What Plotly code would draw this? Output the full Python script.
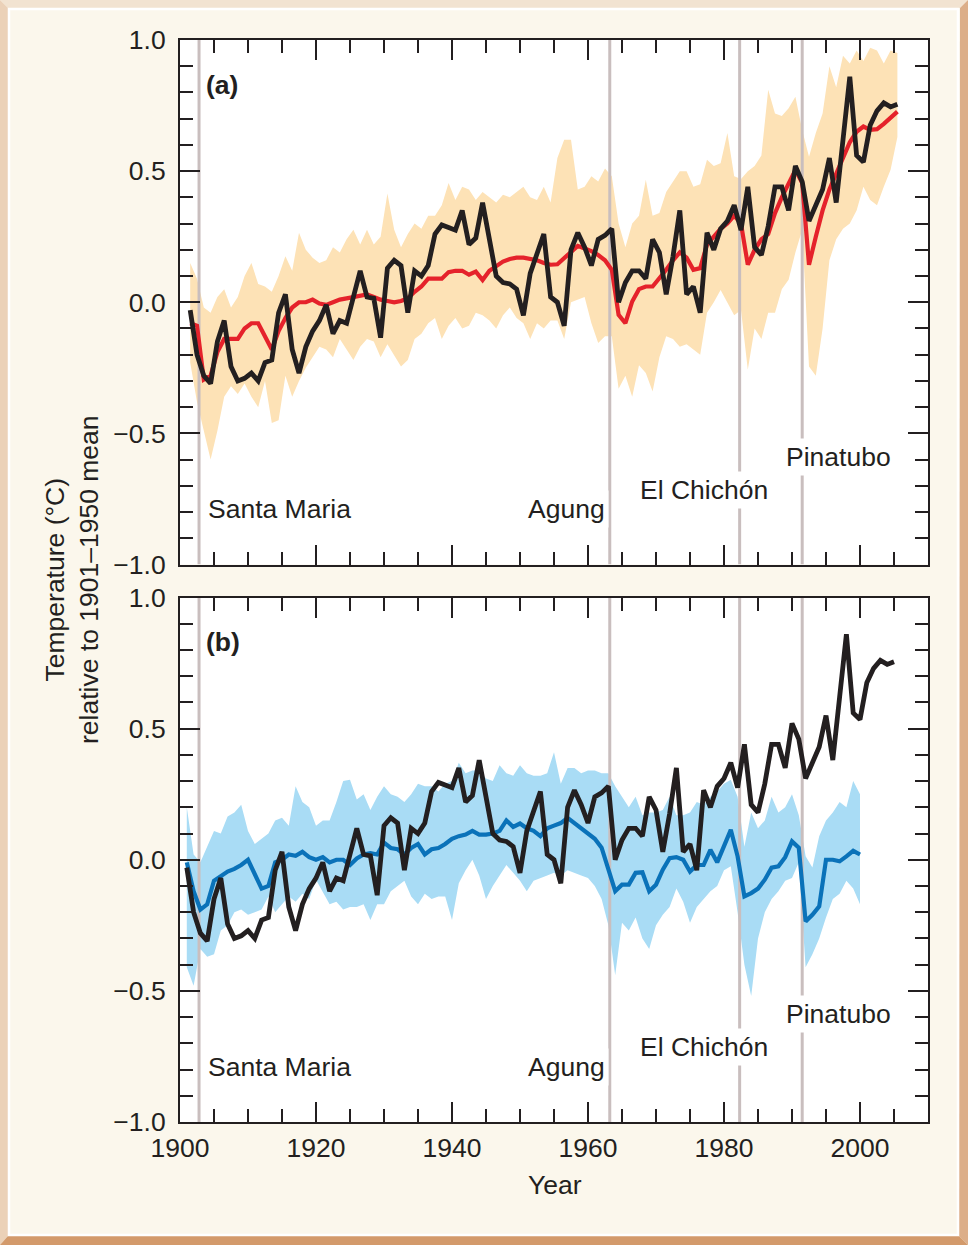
import plotly.graph_objects as go

# ---------------- data ----------------
years_all = list(range(1901, 2006))   # 1901-2005
years_nat = list(range(1901, 2001))   # 1901-2000

observed = [
    -0.03, -0.20, -0.28, -0.31, -0.15, -0.07, -0.245, -0.30, -0.29, -0.27,
    -0.30, -0.23, -0.22, -0.04, 0.03, -0.18, -0.27, -0.17, -0.11, -0.07,
    -0.01, -0.12, -0.07, -0.08, 0.02, 0.12, 0.02, 0.015, -0.135, 0.13,
    0.16, 0.14, -0.04, 0.12, 0.10, 0.14, 0.26, 0.295, 0.285, 0.275,
    0.35, 0.22, 0.245, 0.38, 0.24, 0.10, 0.075, 0.07, 0.05, -0.05,
    0.11, 0.19, 0.26, 0.02, 0.0, -0.09, 0.20, 0.265, 0.21, 0.14,
    0.24, 0.255, 0.28, 0.0, 0.075, 0.12, 0.12, 0.09, 0.24, 0.19,
    0.03, 0.175, 0.35, 0.03, 0.06, -0.04, 0.265, 0.20, 0.28, 0.31,
    0.37, 0.275, 0.44, 0.21, 0.18, 0.29, 0.44, 0.44, 0.35, 0.52,
    0.46, 0.31, 0.365, 0.43, 0.55, 0.38, 0.62, 0.86, 0.56, 0.535,
    0.675, 0.73, 0.76, 0.745, 0.755,
]

all_forcing_mean = [
    -0.08, -0.09, -0.295, -0.28, -0.19, -0.14, -0.14, -0.14, -0.10, -0.08,
    -0.08, -0.13, -0.18, -0.11, -0.06, -0.02, 0.0, 0.0, 0.01, -0.005,
    -0.01, 0.0, 0.01, 0.015, 0.02, 0.025, 0.03, 0.02, 0.01, 0.005,
    0.0, 0.005, 0.015, 0.04, 0.06, 0.09, 0.09, 0.09, 0.115, 0.12,
    0.12, 0.105, 0.117, 0.085, 0.12, 0.14, 0.155, 0.165, 0.17, 0.17,
    0.165, 0.16, 0.15, 0.143, 0.145, 0.17, 0.19, 0.215, 0.205, 0.195,
    0.18, 0.16, 0.124, -0.048, -0.08, 0.003, 0.05, 0.06, 0.06, 0.09,
    0.124, 0.16, 0.19, 0.17, 0.124, 0.13, 0.22, 0.25, 0.28, 0.30,
    0.33, 0.30, 0.143, 0.20, 0.24, 0.26, 0.34, 0.40, 0.45, 0.505,
    0.455, 0.143, 0.25, 0.35, 0.43, 0.49, 0.555, 0.61, 0.65, 0.67,
    0.657, 0.66, 0.68, 0.705, 0.727,
]

all_forcing_upper = [
    0.15, 0.09, -0.02, -0.04, 0.02, 0.05, -0.02, 0.02, 0.10, 0.15,
    0.07, 0.06, 0.04, 0.10, 0.175, 0.12, 0.265, 0.20, 0.17, 0.15,
    0.16, 0.21, 0.19, 0.24, 0.276, 0.22, 0.276, 0.22, 0.25, 0.415,
    0.276, 0.21, 0.26, 0.30, 0.28, 0.33, 0.33, 0.37, 0.455, 0.39,
    0.44, 0.43, 0.39, 0.42, 0.40, 0.38, 0.41, 0.40, 0.42, 0.44,
    0.40, 0.39, 0.44, 0.38, 0.55, 0.62, 0.62, 0.43, 0.44, 0.48,
    0.46, 0.51, 0.48, 0.30, 0.21, 0.30, 0.33, 0.467, 0.33, 0.34,
    0.42, 0.46, 0.50, 0.50, 0.44, 0.45, 0.543, 0.52, 0.53, 0.645,
    0.48, 0.47, 0.50, 0.52, 0.56, 0.81, 0.72, 0.71, 0.74, 0.784,
    0.657, 0.555, 0.645, 0.72, 0.90, 0.82, 0.94, 0.91, 0.96, 0.92,
    0.97, 0.96, 0.91, 0.96, 0.95,
]

all_forcing_lower = [
    -0.23, -0.38, -0.49, -0.60, -0.49, -0.36, -0.32, -0.35, -0.31, -0.36,
    -0.40, -0.30, -0.46, -0.45, -0.28, -0.36, -0.30, -0.25, -0.21, -0.17,
    -0.18, -0.21, -0.14, -0.18, -0.22, -0.17, -0.14, -0.15, -0.21, -0.16,
    -0.20, -0.245, -0.22, -0.14, -0.12, -0.08, -0.06, -0.14, -0.09, -0.06,
    -0.10, -0.09, -0.04, -0.05, -0.07, -0.10, -0.05, -0.02, -0.06, -0.08,
    -0.14, -0.08, -0.10, -0.07, -0.07, -0.14, 0.0, 0.01, 0.02, -0.08,
    -0.155, -0.13, -0.13, -0.33, -0.28, -0.36, -0.24, -0.27, -0.34, -0.21,
    -0.13, -0.14, -0.17, -0.16, -0.18, -0.20, -0.04, 0.0, 0.047, 0.0,
    -0.05, -0.03, -0.257, -0.10, -0.14, -0.04, -0.04, 0.05, 0.086, 0.19,
    0.276, -0.245, -0.28, -0.10, 0.16, 0.24, 0.28, 0.30, 0.35, 0.44,
    0.39, 0.37, 0.44, 0.505, 0.63,
]

natural_mean = [
    -0.01, -0.12, -0.19, -0.17, -0.08, -0.06, -0.045, -0.035, -0.02, 0.0,
    -0.06, -0.11, -0.10, -0.01, 0.0, 0.02, 0.015, 0.03, 0.01, 0.0,
    0.01, -0.01, 0.0, 0.0, -0.02, 0.005, 0.02, 0.025, 0.02, 0.065,
    0.045, 0.04, 0.02, 0.045, 0.06, 0.02, 0.04, 0.045, 0.06, 0.08,
    0.09, 0.096, 0.11, 0.096, 0.096, 0.10, 0.11, 0.15, 0.125, 0.138,
    0.12, 0.11, 0.09, 0.12, 0.13, 0.14, 0.16, 0.14, 0.12, 0.10,
    0.08, 0.046, -0.038, -0.12, -0.095, -0.095, -0.05, -0.048, -0.12, -0.095,
    -0.038, 0.006, 0.01, 0.0, -0.045, -0.02, -0.02, 0.038, -0.01, 0.05,
    0.114, 0.013, -0.14, -0.127, -0.11, -0.076, -0.03, -0.025, 0.01, 0.07,
    0.046, -0.235, -0.21, -0.178, 0.0, 0.0, -0.006, 0.013, 0.034, 0.02,
]

natural_upper = [
    0.20, 0.02, -0.01, 0.05, 0.11, 0.10, 0.165, 0.18, 0.21, 0.11,
    0.06, 0.08, 0.10, 0.15, 0.16, 0.13, 0.28, 0.22, 0.20, 0.13,
    0.15, 0.15, 0.22, 0.30, 0.305, 0.23, 0.25, 0.19, 0.24, 0.28,
    0.25, 0.24, 0.22, 0.25, 0.29, 0.28, 0.28, 0.26, 0.29, 0.30,
    0.37, 0.33, 0.34, 0.34, 0.31, 0.30, 0.36, 0.33, 0.32, 0.36,
    0.33, 0.32, 0.32, 0.33, 0.41, 0.29, 0.35, 0.35, 0.33, 0.34,
    0.34, 0.33, 0.33, 0.28, 0.24, 0.20, 0.24, 0.17, 0.18, 0.18,
    0.19, 0.24, 0.17, 0.17, 0.18, 0.22, 0.21, 0.24, 0.26, 0.29,
    0.305, 0.24, 0.05, 0.18, 0.12, 0.15, 0.24, 0.18, 0.20, 0.25,
    0.17, 0.013, -0.03, 0.09, 0.15, 0.18, 0.22, 0.20, 0.30, 0.25,
]

natural_lower = [
    -0.41, -0.48, -0.34, -0.37, -0.36, -0.27, -0.25, -0.20, -0.19, -0.21,
    -0.20, -0.19, -0.14, -0.20, -0.17, -0.14, -0.16, -0.13, -0.15, -0.076,
    -0.12, -0.17, -0.16, -0.19, -0.18, -0.18, -0.17, -0.23, -0.17, -0.17,
    -0.12, -0.10, -0.08, -0.14, -0.17, -0.13, -0.15, -0.14, -0.14, -0.23,
    -0.09, -0.04, 0.0, -0.06, -0.15, -0.10, -0.06, -0.02, -0.05, -0.08,
    -0.12, -0.08, -0.07, -0.06, -0.05, -0.06, -0.04, -0.05, -0.06, -0.07,
    -0.10, -0.15, -0.25, -0.44, -0.24, -0.27, -0.22, -0.30, -0.34, -0.25,
    -0.21, -0.18, -0.11, -0.16, -0.24, -0.18, -0.15, -0.12, -0.10, -0.04,
    -0.025, -0.20, -0.40, -0.52, -0.30, -0.20, -0.15, -0.12, -0.08, -0.07,
    -0.01, -0.41, -0.36, -0.30, -0.22, -0.15, -0.13, -0.08, -0.11, -0.17,
]

volcano_names = ["Santa Maria", "Agung", "El Chichón", "Pinatubo"]
volcano_dates = [1902.8, 1963.2, 1982.3, 1991.5]

y_tick_vals = [-1.0, -0.5, 0.0, 0.5, 1.0]
y_tick_text = ["\u22121.0", "\u22120.5", "0.0", "0.5", "1.0"]
x_tick_vals = [1900, 1920, 1940, 1960, 1980, 2000]
x_tick_text = ["1900", "1920", "1940", "1960", "1980", "2000"]

# ---------------- styling ----------------
FONT = "Arial, 'Liberation Sans', Helvetica, sans-serif"
INK = "#231f20"
BLACK_LINE = "#231f20"
RED = "#e5222b"
BLUE = "#0a72b9"
ORANGE_FILL = "#fde2b6"
BLUE_FILL = "#a9dcf5"
VOLC = "#c9bebe"
BEIGE = "#fbf7ec"
TXT = 26.5

W, H = 968, 1245
ML, MR, MT, MB = 180, 40, 40, 123
PW, PH = W - ML - MR, H - MT - MB


def pxx(x):
    return (x - ML) / PW


def pxy(y):
    return (H - MB - y) / PH


fig = go.Figure()

# panel a: mid-year positions; panel b: year positions
xa = [y + 0.5 for y in years_all]
xb_obs = list(years_all)
xb_nat = list(years_nat)

# ---- panel (a) ----
fig.add_trace(go.Scatter(
    x=xa + xa[::-1], y=all_forcing_upper + all_forcing_lower[::-1],
    fill="toself", fillcolor=ORANGE_FILL, line=dict(width=0),
    mode="lines", hoverinfo="skip", showlegend=False, xaxis="x", yaxis="y"))
for d in volcano_dates:
    fig.add_trace(go.Scatter(x=[d, d], y=[-1, 1], mode="lines",
                             line=dict(color=VOLC, width=3), showlegend=False,
                             hoverinfo="skip", xaxis="x", yaxis="y"))
fig.add_trace(go.Scatter(x=xa, y=all_forcing_mean, mode="lines",
                         line=dict(color=RED, width=4.2), showlegend=False,
                         xaxis="x", yaxis="y"))
fig.add_trace(go.Scatter(x=xa, y=observed, mode="lines",
                         line=dict(color=BLACK_LINE, width=4.8), showlegend=False,
                         xaxis="x", yaxis="y"))

# ---- panel (b) ----
fig.add_trace(go.Scatter(
    x=xb_nat + xb_nat[::-1], y=natural_upper + natural_lower[::-1],
    fill="toself", fillcolor=BLUE_FILL, line=dict(width=0),
    mode="lines", hoverinfo="skip", showlegend=False, xaxis="x2", yaxis="y2"))
for d in volcano_dates:
    fig.add_trace(go.Scatter(x=[d, d], y=[-1, 1], mode="lines",
                             line=dict(color=VOLC, width=3), showlegend=False,
                             hoverinfo="skip", xaxis="x2", yaxis="y2"))
fig.add_trace(go.Scatter(x=xb_nat, y=natural_mean, mode="lines",
                         line=dict(color=BLUE, width=4.2), showlegend=False,
                         xaxis="x2", yaxis="y2"))
fig.add_trace(go.Scatter(x=xb_obs, y=observed, mode="lines",
                         line=dict(color=BLACK_LINE, width=4.8), showlegend=False,
                         xaxis="x2", yaxis="y2"))

gap = 33
h_b = (PH - gap) / 2
dom_b = [0, h_b / PH]
dom_a = [(h_b + gap) / PH, 1]

common_x = dict(range=[1900, 2010], showline=True, linecolor=INK, linewidth=2,
                mirror="ticks", ticks="inside", ticklen=20, tickwidth=2,
                tickcolor=INK, tickvals=x_tick_vals, ticktext=x_tick_text,
                showgrid=False, zeroline=False,
                minor=dict(dtick=5, tick0=1900, ticks="inside", ticklen=13,
                           tickwidth=2, tickcolor=INK, showgrid=False),
                tickfont=dict(family=FONT, size=TXT, color=INK),
                ticklabelstandoff=1)
common_y = dict(range=[-1, 1], showline=True, linecolor=INK, linewidth=2,
                mirror="ticks", ticks="inside", ticklen=20, tickwidth=2,
                tickcolor=INK, tickvals=y_tick_vals, ticktext=y_tick_text,
                showgrid=False, zeroline=False,
                minor=dict(dtick=0.1, tick0=0, ticks="inside", ticklen=13,
                           tickwidth=2, tickcolor=INK, showgrid=False),
                tickfont=dict(family=FONT, size=TXT, color=INK),
                ticklabelstandoff=7)

fig.update_layout(
    width=W, height=H,
    margin=dict(l=ML, r=MR, t=MT, b=MB),
    paper_bgcolor=BEIGE, plot_bgcolor="white",
    showlegend=False,
    xaxis=dict(common_x, domain=[0, 1], anchor="y", showticklabels=False),
    yaxis=dict(common_y, domain=dom_a, anchor="x"),
    xaxis2=dict(common_x, domain=[0, 1], anchor="y2"),
    yaxis2=dict(common_y, domain=dom_b, anchor="x2"),
    font=dict(family=FONT, color=INK),
)

# volcano labels
label_pos = [  # (x, xanchor, y)
    (1903.6, "left", -0.79),
    (1963.1, "right", -0.79),
    (1967.1, "left", -0.714),
    (1988.5, "left", -0.59),
]
annotations = []
for (xr, yr) in [("x", "y"), ("x2", "y2")]:
    for name, (lx, anc, ly) in zip(volcano_names, label_pos):
        annotations.append(dict(x=lx, y=ly, xref=xr, yref=yr, text=name,
                                showarrow=False, xanchor=anc, yanchor="middle",
                                bgcolor="white", borderpad=3,
                                font=dict(family=FONT, size=TXT, color=INK)))
annotations.append(dict(x=1903.6, y=0.83, xref="x", yref="y", text="<b>(a)</b>",
                        showarrow=False, xanchor="left", yanchor="middle",
                        font=dict(family=FONT, size=TXT, color=INK)))
annotations.append(dict(x=1903.6, y=0.83, xref="x2", yref="y2", text="<b>(b)</b>",
                        showarrow=False, xanchor="left", yanchor="middle",
                        font=dict(family=FONT, size=TXT, color=INK)))
annotations.append(dict(x=pxx(72), y=pxy(580), xref="paper", yref="paper",
                        text="Temperature (°C)<br>relative to 1901\u20131950 mean",
                        textangle=-90, showarrow=False, xanchor="center",
                        yanchor="middle",
                        font=dict(family=FONT, size=TXT, color=INK)))
annotations.append(dict(x=pxx(555), y=pxy(1185), xref="paper", yref="paper",
                        text="Year", showarrow=False, xanchor="center",
                        yanchor="middle",
                        font=dict(family=FONT, size=TXT, color=INK)))
fig.update_layout(annotations=annotations)

# decorative frame
def ppath(pts):
    s = "M " + " L ".join(f"{pxx(a):.5f},{pxy(b):.5f}" for a, b in pts) + " Z"
    return s

frame = [
    ([(0, 0), (W, 0), (W - 8, 8), (8, 8)], "#f2e3d1"),
    ([(0, 0), (8, 8), (8, H - 9), (0, H)], "#ebd1b8"),
    ([(W, 0), (W, H), (W - 9, H - 9), (W - 8, 8)], "#dcae89"),
    ([(0, H), (W, H), (W - 9, H - 9), (8, H - 9)], "#d39a6b"),
]
shapes = []
for pts, col in frame:
    shapes.append(dict(type="path", xref="paper", yref="paper", path=ppath(pts),
                       fillcolor=col, line=dict(width=0), layer="above"))
shapes.append(dict(type="rect", xref="paper", yref="paper",
                   x0=pxx(9), x1=pxx(W - 10), y0=pxy(9), y1=pxy(H - 10),
                   line=dict(color="white", width=2.5), fillcolor="rgba(0,0,0,0)",
                   layer="above"))
fig.update_layout(shapes=shapes)

fig.write_html("out.html",
               config={"displayModeBar": False},
               post_script="document.body.style.margin='0';"
                           "document.body.style.overflow='hidden';")
